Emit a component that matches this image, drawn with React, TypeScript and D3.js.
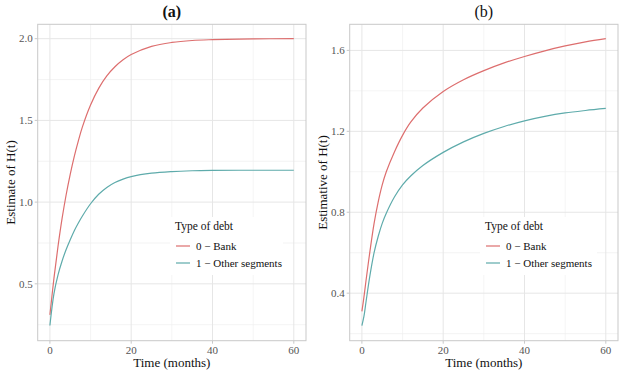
import React from "react";
import * as d3 from "d3";

// ---- data ----
const monthsA = [0, 1, 2, 3, 4, 5, 6, 7, 8, 10, 12, 14, 16, 18, 20, 25, 30, 35, 40, 50, 60];
const bankA = [0.31, 0.535, 0.73, 0.90, 1.045, 1.17, 1.28, 1.375, 1.46, 1.594, 1.696, 1.772, 1.828, 1.871, 1.903, 1.953, 1.977, 1.989, 1.994, 1.999, 2.0];
const otherA = [0.245, 0.44, 0.555, 0.64, 0.71, 0.77, 0.825, 0.872, 0.915, 0.99, 1.048, 1.09, 1.12, 1.141, 1.156, 1.177, 1.187, 1.192, 1.194, 1.195, 1.195];

const monthsB = [0, 0.5, 1, 2, 3, 4, 5, 6, 8, 10, 12, 15, 20, 25, 30, 35, 40, 45, 50, 55, 60];
const bankB = [0.31, 0.38, 0.46, 0.61, 0.745, 0.85, 0.935, 1.0, 1.098, 1.18, 1.245, 1.315, 1.397, 1.455, 1.5, 1.538, 1.57, 1.598, 1.622, 1.642, 1.658];
const otherB = [0.24, 0.285, 0.355, 0.49, 0.6, 0.68, 0.745, 0.795, 0.875, 0.935, 0.979, 1.031, 1.096, 1.148, 1.19, 1.224, 1.252, 1.274, 1.291, 1.303, 1.313];

const xTicks = [0, 20, 40, 60];
const xMinor = [10, 30, 50];
const yTicksA = [0.5, 1.0, 1.5, 2.0];
const yMinorA = [0.25, 0.75, 1.25, 1.75];
const yTicksB = [0.4, 0.8, 1.2, 1.6];
const yMinorB = [0.2, 0.6, 1.0, 1.4];

const legendTitle = "Type of debt";
const legendLabels = ["0 \u2212 Bank", "1 \u2212 Other segments"];
const seriesColors = ["#dd6e6e", "#5eabab"];

const FONT = "Liberation Serif, Times New Roman, Times, serif";

type PanelProps = {
  left: number; right: number; top: number; bottom: number;
  title: string; titleBold: boolean; yTitle: string;
  months: number[]; s1: number[]; s2: number[];
  yDomain: [number, number]; yTicks: number[]; yMinor: number[];
  legendX: number; legendW: number;
};

function Panel(p: PanelProps) {
  const x = d3.scaleLinear().domain([-3, 63]).range([p.left, p.right]);
  const y = d3.scaleLinear().domain(p.yDomain).range([p.bottom, p.top]);
  const line = (vals: number[]) =>
    d3.line<number>()
      .x((_, i) => x(p.months[i]))
      .y((v) => y(v))
      .curve(d3.curveCatmullRom.alpha(0.5))(vals) || "";
  const fmt = d3.format(".1f");
  const cx = (p.left + p.right) / 2;
  const cy = (p.top + p.bottom) / 2;
  const lx = p.legendX;
  const ly = 217;
  return (
    <g>
      {/* grid */}
      {xMinor.map((t) => (
        <line key={"xm" + t} x1={x(t)} x2={x(t)} y1={p.top} y2={p.bottom} stroke="#efefef" strokeWidth={0.7} />
      ))}
      {p.yMinor.map((t) => (
        <line key={"ym" + t} x1={p.left} x2={p.right} y1={y(t)} y2={y(t)} stroke="#efefef" strokeWidth={0.7} />
      ))}
      {xTicks.map((t) => (
        <line key={"xM" + t} x1={x(t)} x2={x(t)} y1={p.top} y2={p.bottom} stroke="#e6e6e6" strokeWidth={1} />
      ))}
      {p.yTicks.map((t) => (
        <line key={"yM" + t} x1={p.left} x2={p.right} y1={y(t)} y2={y(t)} stroke="#e6e6e6" strokeWidth={1} />
      ))}
      {/* series */}
      <path d={line(p.s1)} fill="none" stroke={seriesColors[0]} strokeWidth={1.2} />
      <path d={line(p.s2)} fill="none" stroke={seriesColors[1]} strokeWidth={1.2} />
      {/* border */}
      <rect x={p.left} y={p.top} width={p.right - p.left} height={p.bottom - p.top} fill="none" stroke="#c9c9c9" strokeWidth={1} />
      {/* ticks */}
      {xTicks.map((t) => (
        <g key={"xt" + t}>
          <line x1={x(t)} x2={x(t)} y1={p.bottom} y2={p.bottom + 3} stroke="#c9c9c9" />
          <text x={x(t)} y={p.bottom + 13} textAnchor="middle" fontSize={11} fill="#555" fontFamily={FONT}>{t}</text>
        </g>
      ))}
      {p.yTicks.map((t) => (
        <g key={"yt" + t}>
          <line x1={p.left - 3} x2={p.left} y1={y(t)} y2={y(t)} stroke="#c9c9c9" />
          <text x={p.left - 5} y={y(t) + 3.8} textAnchor="end" fontSize={11} fill="#555" fontFamily={FONT}>{fmt(t)}</text>
        </g>
      ))}
      {/* titles */}
      <text x={cx} y={17} textAnchor="middle" fontSize={16} fontWeight={p.titleBold ? "bold" : "normal"} fill="#111" fontFamily={FONT}>{p.title}</text>
      <text x={cx} y={367} textAnchor="middle" fontSize={13} fill="#111" fontFamily={FONT}>Time (months)</text>
      <text transform={`translate(${p.left - 23},${cy}) rotate(-90)`} textAnchor="middle" fontSize={13} fill="#111" fontFamily={FONT}>{p.yTitle}</text>
      {/* legend */}
      <rect x={lx} y={ly} width={p.legendW} height={58} fill="white" />
      <text x={lx + 5} y={ly + 13} fontSize={11.5} fill="#111" fontFamily={FONT}>{legendTitle}</text>
      {legendLabels.map((lab, i) => (
        <g key={lab}>
          <line x1={lx + 6} x2={lx + 20} y1={ly + 29 + i * 17} y2={ly + 29 + i * 17} stroke={seriesColors[i]} strokeWidth={1.2} />
          <text x={lx + 26} y={ly + 33 + i * 17} fontSize={11} fill="#111" fontFamily={FONT}>{lab}</text>
        </g>
      ))}
    </g>
  );
}

export default function App() {
  return (
    <svg width={624} height={375} style={{ position: "absolute", left: 0, top: 0, background: "white" }}>
      <rect x={0} y={0} width={624} height={375} fill="white" />
      <Panel left={37.7} right={306} top={24.3} bottom={340.7} title="(a)" titleBold={true}
        yTitle="Estimate of H(t)" months={monthsA} s1={bankA} s2={otherA}
        yDomain={[0.152, 2.088]} yTicks={yTicksA} yMinor={yMinorA} legendX={170} legendW={113} />
      <Panel left={349.7} right={618} top={24.3} bottom={340.7} title="(b)" titleBold={false}
        yTitle="Estimative of H(t)" months={monthsB} s1={bankB} s2={otherB}
        yDomain={[0.165, 1.729]} yTicks={yTicksB} yMinor={yMinorB} legendX={480} legendW={117} />
    </svg>
  );
}
